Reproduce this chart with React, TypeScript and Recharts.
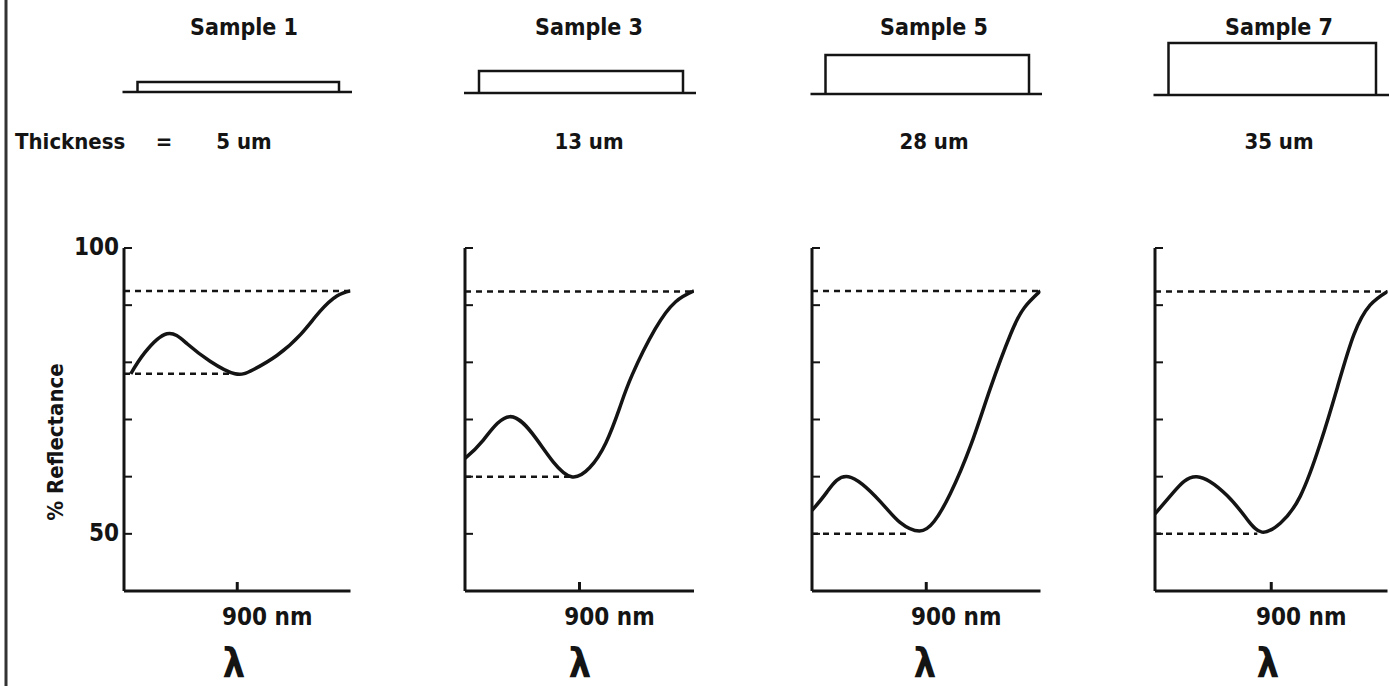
import React from "react";
import { LineChart, Line, XAxis, YAxis, ReferenceLine } from "recharts";

// values
const samples = ["Sample 1", "Sample 3", "Sample 5", "Sample 7"];
const thicknessLabels = ["5 um", "13 um", "28 um", "35 um"];
const wavelengthTicks = [900];
const reflectanceTicks = [50, 60, 70, 80, 90, 100];
const labelledTicks = [50, 100];
const upperLevels = [92.5, 92.4, 92.5, 92.4];
const lowerLevels = [78, 60, 50, 50];
const lowerEnds = [898, 893, 886, 888];

const sample1 = [
  { nm: 806, r: 78 },
  { nm: 818, r: 81.6 },
  { nm: 838, r: 85 },
  { nm: 856, r: 83.2 },
  { nm: 876, r: 80.2 },
  { nm: 898, r: 78 },
  { nm: 914, r: 78.7 },
  { nm: 935, r: 81.2 },
  { nm: 956, r: 84.9 },
  { nm: 973, r: 88.9 },
  { nm: 988, r: 91.6 },
  { nm: 1000, r: 92.5 },
];
const sample3 = [
  { nm: 800, r: 63.2 },
  { nm: 816, r: 66.4 },
  { nm: 839, r: 70.5 },
  { nm: 862, r: 66.7 },
  { nm: 877, r: 62.6 },
  { nm: 893, r: 60 },
  { nm: 909, r: 61.6 },
  { nm: 923, r: 65.9 },
  { nm: 935, r: 72 },
  { nm: 946, r: 77.8 },
  { nm: 966, r: 85.8 },
  { nm: 984, r: 90.6 },
  { nm: 1000, r: 92.5 },
];
const sample5 = [
  { nm: 800, r: 54.1 },
  { nm: 813, r: 57.3 },
  { nm: 832, r: 60 },
  { nm: 860, r: 55.6 },
  { nm: 877, r: 52 },
  { nm: 894, r: 50.5 },
  { nm: 907, r: 52.2 },
  { nm: 921, r: 57 },
  { nm: 939, r: 65.5 },
  { nm: 956, r: 75.4 },
  { nm: 974, r: 85 },
  { nm: 986, r: 89.6 },
  { nm: 1000, r: 92.5 },
];
const sample7 = [
  { nm: 800, r: 53.5 },
  { nm: 816, r: 57.3 },
  { nm: 836, r: 60 },
  { nm: 862, r: 56.7 },
  { nm: 879, r: 52.6 },
  { nm: 892, r: 50.3 },
  { nm: 908, r: 51.9 },
  { nm: 925, r: 56.6 },
  { nm: 942, r: 65.7 },
  { nm: 957, r: 75.7 },
  { nm: 971, r: 84.8 },
  { nm: 985, r: 90 },
  { nm: 1000, r: 92.4 },
];
const curves = [sample1, sample3, sample5, sample7];

// layout
const INK = "#141414";
const FONT = "'DejaVu Sans Condensed', 'Liberation Sans Narrow', 'DejaVu Sans', sans-serif";
const panelLeft = [123.5, 465, 811.5, 1154.5];
const panelWidth = [226.5, 229, 228.5, 232.5];
const profileHeight = [10, 22, 39, 52];
const baseY = [92, 93, 94, 95];
const titleCenter = [244, 589, 934, 1279];
const lambdaCenter = [234, 580, 925, 1268];
const AXIS_W = 60;
const PLOT_TOP = 248;
const PLOT_H = 343;
const TOP_PAD = 20;

function XTick(props: any) {
  const { x, y, payload } = props;
  return (
    <g>
      <line x1={x} x2={x} y1={y} y2={y - 9} stroke={INK} strokeWidth={3} />
      <text x={x + 30} y={y + 34} textAnchor="middle" fontSize={24} fontWeight="bold" fill={INK} fontFamily={FONT}>
        {`${payload.value} nm`}
      </text>
    </g>
  );
}

function YTick(props: any) {
  const { x, y, payload, showLabel } = props;
  return (
    <g>
      <line x1={x} x2={x + 8} y1={y} y2={y} stroke={INK} strokeWidth={2} />
      {showLabel && labelledTicks.includes(payload.value) ? (
        <text x={x - 5} y={y + 7} textAnchor="end" fontSize={24} fontWeight="bold" fill={INK} fontFamily={FONT}>
          {payload.value}
        </text>
      ) : null}
    </g>
  );
}

function Panel({ i }: { i: number }) {
  const w = panelWidth[i];
  return (
    <div style={{ position: "absolute", left: panelLeft[i] - AXIS_W, top: PLOT_TOP - TOP_PAD }}>
      <LineChart
        width={AXIS_W + w + 12}
        height={TOP_PAD + PLOT_H + 45}
        data={curves[i]}
        margin={{ top: TOP_PAD, right: 12, bottom: 0, left: 0 }}
      >
        <XAxis
          type="number"
          dataKey="nm"
          domain={[800, 1000]}
          ticks={wavelengthTicks}
          interval={0}
          tickSize={0}
          tickMargin={0}
          height={45}
          tickLine={false}
          axisLine={{ stroke: INK, strokeWidth: 3 }}
          tick={(p: any) => <XTick {...p} />}
          allowDataOverflow
        />
        <YAxis
          type="number"
          domain={[40, 100]}
          ticks={reflectanceTicks}
          interval={0}
          width={AXIS_W}
          tickSize={0}
          tickMargin={0}
          tickLine={false}
          axisLine={{ stroke: INK, strokeWidth: 3 }}
          tick={(p: any) => <YTick {...p} showLabel={i === 0} />}
          allowDataOverflow
        />
        <ReferenceLine y={upperLevels[i]} stroke={INK} strokeWidth={2.5} strokeDasharray="6 5" />
        <ReferenceLine
          segment={[
            { x: 800, y: lowerLevels[i] },
            { x: lowerEnds[i], y: lowerLevels[i] },
          ]}
          stroke={INK}
          strokeWidth={2.5}
          strokeDasharray="6 5"
        />
        <Line type="natural" dataKey="r" stroke={INK} strokeWidth={3.5} dot={false} isAnimationActive={false} />
      </LineChart>
    </div>
  );
}

export default function App() {
  return (
    <div
      style={{
        position: "absolute",
        left: 0,
        top: 0,
        width: 1389,
        height: 686,
        background: "#fff",
        overflow: "hidden",
        fontFamily: FONT,
      }}
    >
      <svg width={1389} height={686} style={{ position: "absolute", left: 0, top: 0 }}>
        <line x1={6} x2={6} y1={0} y2={686} stroke="#333" strokeWidth={3} />
        {samples.map((s, i) => {
          const l = panelLeft[i];
          const r = l + panelWidth[i];
          const by = baseY[i];
          const top = by - profileHeight[i];
          return (
            <g key={s} fill={INK} fontFamily={FONT} fontWeight="bold">
              <text x={titleCenter[i]} y={35} fontSize={23} textAnchor="middle">
                {s}
              </text>
              <line x1={l - 1} x2={r + 2} y1={by} y2={by} stroke={INK} strokeWidth={2.5} />
              <polyline
                points={`${l + 14},${by} ${l + 14},${top} ${r - 11},${top} ${r - 11},${by}`}
                fill="none"
                stroke={INK}
                strokeWidth={2.5}
              />
              <text x={titleCenter[i]} y={149} fontSize={22} textAnchor="middle">
                {thicknessLabels[i]}
              </text>
              <text x={lambdaCenter[i]} y={677} fontSize={40} textAnchor="middle">
                λ
              </text>
            </g>
          );
        })}
        <g fill={INK} fontFamily={FONT} fontWeight="bold">
          <text x={15} y={149} fontSize={22}>
            Thickness
          </text>
          <text x={164} y={149} fontSize={22} textAnchor="middle">
            =
          </text>
          <text x={0} y={0} fontSize={22} textAnchor="middle" transform="translate(63 442) rotate(-90)">
            % Reflectance
          </text>
        </g>
      </svg>
      {samples.map((s, i) => (
        <Panel key={s} i={i} />
      ))}
    </div>
  );
}
